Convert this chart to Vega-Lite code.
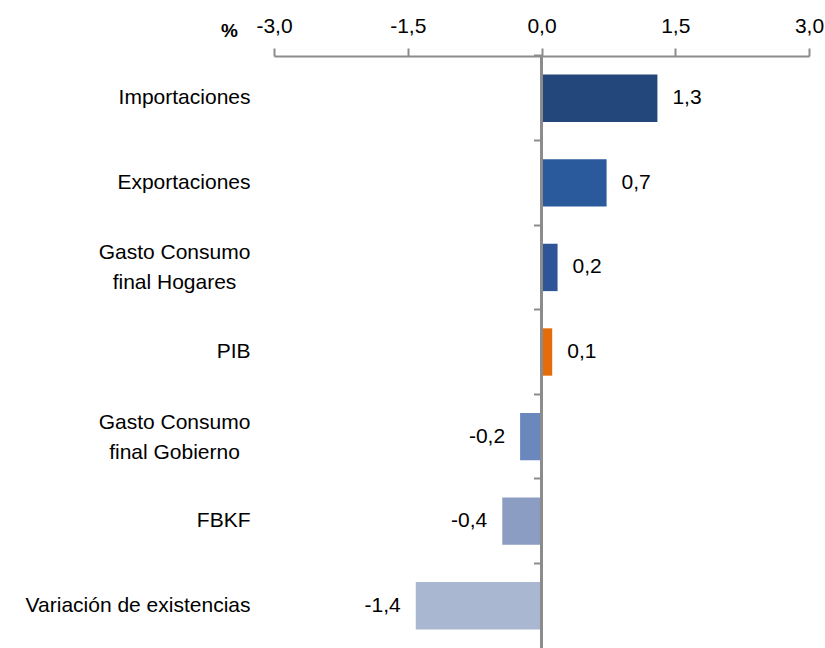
{
  "$schema": "https://vega.github.io/schema/vega-lite/v6.json",
  "width": 535,
  "height": 592,
  "autosize": "none",
  "padding": {"left": 274, "top": 56, "right": 16, "bottom": 0},
  "config": {
    "view": {"stroke": null},
    "font": "Liberation Sans",
    "locale": {"number": {"decimal": ",", "thousands": ".", "grouping": [3], "currency": ["", " €"], "minus": "-"}}
  },
  "data": {
    "values": [
      {"componente": "Importaciones", "valor": 1.3},
      {"componente": "Exportaciones", "valor": 0.73},
      {"componente": "Gasto Consumo final Hogares", "valor": 0.18},
      {"componente": "PIB", "valor": 0.12},
      {"componente": "Gasto Consumo final Gobierno", "valor": -0.24},
      {"componente": "FBKF", "valor": -0.44},
      {"componente": "Variación de existencias", "valor": -1.41}
    ]
  },
  "layer": [
    {
      "mark": {"type": "bar"},
      "encoding": {
        "y": {
          "field": "componente", "type": "nominal", "sort": null,
          "scale": {"paddingInner": 0.44, "paddingOuter": 0.22},
          "axis": {
            "orient": "left",
            "title": null, "domain": false, "ticks": false,
            "labelPadding": {"condition": {"test": "indexof(datum.value, 'Consumo') >= 0", "value": 100}, "value": 24},
            "labelAlign": {"condition": {"test": "indexof(datum.value, 'Consumo') >= 0", "value": "center"}, "value": "right"},
            "labelFontSize": 21, "labelColor": "#000000",
            "labelFont": "Liberation Sans", "labelLineHeight": 30, "labelLimit": 0,
            "labelOffset": {"condition": {"test": "indexof(datum.value, 'Consumo') >= 0", "value": -14}, "value": 0},
            "labelExpr": "split(replace(datum.value, 'Consumo ', 'Consumo|'), '|')"
          }
        },
        "x": {
          "field": "valor", "type": "quantitative",
          "scale": {"domain": [-3, 3], "nice": false, "zero": false},
          "axis": {
            "orient": "top", "values": [-3, -1.5, 0, 1.5, 3], "format": ".1f",
            "grid": false, "domainColor": "#8c8c8c", "domainWidth": 2,
            "tickColor": "#8c8c8c", "tickWidth": 2, "tickSize": 8,
            "labelFontSize": 21, "labelColor": "#000000", "labelPadding": 12,
            "labelFont": "Liberation Sans", "labelFlush": false, "labelOverlap": false,
            "title": "%", "titleFontSize": 19, "titleFontWeight": "bold",
            "titleFont": "Liberation Sans",
            "titleAngle": 0, "titleX": -45, "titleY": -26,
            "titleAlign": "center", "titleBaseline": "middle"
          }
        },
        "color": {
          "field": "componente", "type": "nominal", "legend": null,
          "scale": {
            "domain": ["Importaciones", "Exportaciones", "Gasto Consumo final Hogares", "PIB", "Gasto Consumo final Gobierno", "FBKF", "Variación de existencias"],
            "range": ["#23477b", "#2a5a9c", "#2d5597", "#e46c0a", "#6a88bd", "#8b9dc2", "#a9b7d1"]
          }
        }
      }
    },
    {
      "mark": {"type": "rule", "color": "#8c8c8c", "strokeWidth": 2},
      "encoding": {
        "x": {"datum": 0, "type": "quantitative"}
      }
    },
    {
      "mark": {"type": "tick", "color": "#8c8c8c", "thickness": 2, "size": 0, "opacity": 0},
      "encoding": {
        "y": {
          "field": "componente", "type": "nominal", "sort": null,
          "axis": {
            "orient": "left",
            "title": null, "labels": false, "domain": false, "offset": -267.5,
            "ticks": true, "tickColor": "#8c8c8c", "tickWidth": 2, "tickSize": 8,
            "bandPosition": -0.3929
          }
        },
        "x": {"datum": 0, "type": "quantitative"}
      }
    },
    {
      "transform": [{"filter": "datum.valor >= 0"}],
      "mark": {"type": "text", "align": "left", "dx": 15, "fontSize": 21, "font": "Liberation Sans", "color": "#000000"},
      "encoding": {
        "y": {"field": "componente", "type": "nominal", "sort": null, "axis": null},
        "x": {"field": "valor", "type": "quantitative"},
        "text": {"field": "valor", "type": "quantitative", "format": ".1f"}
      }
    },
    {
      "transform": [{"filter": "datum.valor < 0"}],
      "mark": {"type": "text", "align": "right", "dx": -15, "fontSize": 21, "font": "Liberation Sans", "color": "#000000"},
      "encoding": {
        "y": {"field": "componente", "type": "nominal", "sort": null, "axis": null},
        "x": {"field": "valor", "type": "quantitative"},
        "text": {"field": "valor", "type": "quantitative", "format": ".1f"}
      }
    }
  ],
  "resolve": {"axis": {"y": "independent"}}
}
